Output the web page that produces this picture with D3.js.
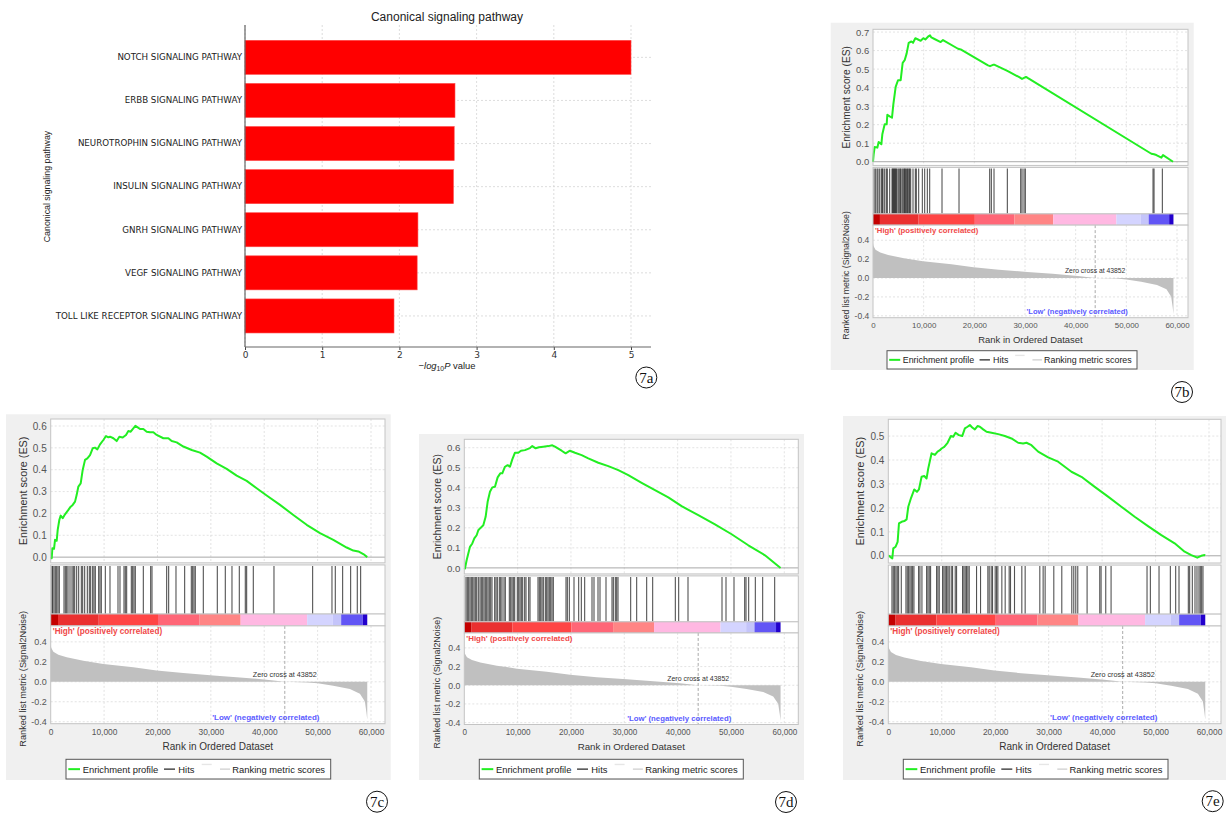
<!DOCTYPE html>
<html lang="en">
<head>
<meta charset="UTF-8">
<title>Figure 7</title>
<script src="https://cdnjs.cloudflare.com/ajax/libs/d3/7.8.5/d3.min.js"></script>
<style>
	body { margin: 0; background: #fff; }
	svg text { font-family: "Liberation Sans", Arial, sans-serif; }
</style>
<script>
// ---- 7a: canonical signaling pathway bars
var pathways = ["NOTCH SIGNALING PATHWAY", "ERBB SIGNALING PATHWAY", "NEUROTROPHIN SIGNALING PATHWAY",
	"INSULIN SIGNALING PATHWAY", "GNRH SIGNALING PATHWAY", "VEGF SIGNALING PATHWAY",
	"TOLL LIKE RECEPTOR SIGNALING PATHWAY"];
var pathwayScores = [5.0, 2.72, 2.71, 2.70, 2.24, 2.23, 1.93];
var barTicks = [0, 1, 2, 3, 4, 5];

// ---- GSEA shared ranked list
var rankTicks = [0, 10000, 20000, 30000, 40000, 50000, 60000];
var metricTicks = [-0.4, -0.2, 0.0, 0.2, 0.4];
var listSize = 59300;
var zeroCross = 43852;
var metricCurve = [[0, 0.37], [100, 0.34], [500, 0.30], [1436, 0.27], [2996, 0.245], [6116, 0.21], [9862, 0.178],
	[15479, 0.145], [19849, 0.113], [24841, 0.087], [30458, 0.064], [35453, 0.044], [40444, 0.021], [43852, 0],
	[48060, -0.006], [50000, -0.015], [52928, -0.04], [56050, -0.073], [57921, -0.12], [58856, -0.197],
	[59150, -0.31], [59300, -0.38]];
var colorBands = [[0, 1370, "#c40000"], [1370, 9000, "#ea3030"], [9000, 20100, "#ff4545"], [20100, 27900, "#ff6677"],
	[27900, 35580, "#ff8585"], [35580, 48040, "#ffb8e2"], [48040, 52850, "#d4d4ff"], [52850, 54410, "#c4c4fa"],
	[54410, 58450, "#6255f5"], [58450, 59300, "#2200cc"]];

// ---- 7b
var esTicksB = [0.0, 0.1, 0.2, 0.3, 0.4, 0.5, 0.6, 0.7];
var esB = [[0, 0], [131, 0.040], [329, 0.079], [855, 0.076], [1118, 0.106], [1645, 0.094], [1842, 0.148], [2303, 0.202],
	[2697, 0.202], [2829, 0.253], [3290, 0.245], [3751, 0.238], [4014, 0.310], [4474, 0.404], [4935, 0.440], [5461, 0.440],
	[5856, 0.534], [6251, 0.548], [6645, 0.585], [7041, 0.642], [7566, 0.649], [7896, 0.642], [8356, 0.667], [8883, 0.660],
	[9408, 0.653], [9935, 0.667], [10330, 0.660], [10856, 0.675], [11251, 0.682], [11514, 0.671], [12041, 0.664],
	[13356, 0.646], [13817, 0.657], [16778, 0.610], [17304, 0.606], [22700, 0.520], [23094, 0.516], [23687, 0.523],
	[24015, 0.523], [26515, 0.491], [28950, 0.455], [29411, 0.447], [30201, 0.458], [30595, 0.451], [54940, 0.043],
	[55466, 0.040], [55927, 0.036], [56913, 0.022], [57243, 0.036], [59216, 0]];
var hitsB = [197, 461, 790, 987, 1316, 1645, 1842, 1973, 2303, 2632, 2829, 3290, 3751, 3882, 4014, 4145, 4276, 4408,
	4540, 4672, 4935, 5132, 5329, 5461, 5724, 5921, 6119, 6251, 6382, 6580, 6777, 6908, 7106, 7238, 7435, 7896, 8356,
	8553, 9014, 9738, 10198, 10725, 11186, 13620, 16976, 23029, 23357, 23884, 26515, 29147, 29411, 29805, 30069,
	55268, 55466, 57110];

// ---- 7c
var esTicksC = [0.0, 0.1, 0.2, 0.3, 0.4, 0.5, 0.6];
var esC = [[0, 0], [187, -0.005], [312, 0.041], [624, 0.038], [812, 0.079], [1124, 0.075], [1311, 0.125], [1623, 0.171],
	[1873, 0.190], [2248, 0.178], [2685, 0.196], [3309, 0.216], [3746, 0.231], [4120, 0.239], [4558, 0.254], [4870, 0.285],
	[5182, 0.323], [5619, 0.337], [5994, 0.399], [6431, 0.445], [6868, 0.452], [7367, 0.467], [7867, 0.498], [8304, 0.501],
	[8740, 0.493], [9240, 0.516], [9865, 0.536], [10364, 0.554], [10802, 0.548], [11113, 0.551], [11738, 0.544],
	[12362, 0.531], [12861, 0.551], [13486, 0.547], [14110, 0.559], [14547, 0.577], [14984, 0.574], [15359, 0.586],
	[15858, 0.601], [16233, 0.595], [16732, 0.586], [17357, 0.586], [17981, 0.574], [18605, 0.571], [19230, 0.571],
	[19854, 0.559], [21103, 0.544], [22039, 0.544], [22664, 0.531], [23600, 0.525], [24849, 0.506], [26410, 0.490],
	[27970, 0.478], [29219, 0.460], [31092, 0.429], [32965, 0.404], [34838, 0.373], [36711, 0.349], [38584, 0.315],
	[40457, 0.282], [42955, 0.239], [45452, 0.193], [47949, 0.148], [50447, 0.110], [52944, 0.079], [55441, 0.044],
	[56690, 0.030], [57627, 0.026], [58563, 0.014], [59300, 0]];
var hitsC = [244, 369, 618, 868, 1118, 1368, 1617, 2491, 2741, 2991, 3241, 3615, 3990, 4239, 4489, 4864, 5238, 5738,
	5988, 6362, 6862, 7236, 7486, 7861, 8110, 8360, 8984, 9234, 9484, 10233, 11107, 12606, 12980, 13729, 13979, 14229,
	15103, 15353, 15602, 15852, 17351, 18724, 18974, 21721, 22096, 23469, 25092, 26341, 26591, 26841, 27090, 28589,
	31211, 32709, 33958, 35332, 36455, 36705, 37954, 41825, 49067, 52688, 53313, 54686, 56185, 57433, 58058];

// ---- 7d
var esTicksD = [0.0, 0.1, 0.2, 0.3, 0.4, 0.5, 0.6];
var esD = [[0, 0], [125, -0.003], [438, 0.038], [750, 0.072], [1063, 0.105], [1500, 0.122], [1875, 0.147], [2313, 0.163],
	[2625, 0.188], [2938, 0.197], [3563, 0.213], [4000, 0.255], [4375, 0.330], [4813, 0.380], [5250, 0.402], [5750, 0.405],
	[6250, 0.452], [6750, 0.472], [7125, 0.472], [7625, 0.505], [8125, 0.513], [8563, 0.505], [9000, 0.542], [9500, 0.575],
	[10125, 0.575], [10625, 0.585], [11375, 0.588], [12313, 0.598], [12750, 0.608], [13375, 0.597], [14000, 0.602],
	[14813, 0.605], [15750, 0.608], [16500, 0.612], [17000, 0.605], [18250, 0.585], [19000, 0.572], [19813, 0.585],
	[20750, 0.575], [22000, 0.563], [23250, 0.547], [25125, 0.525], [27000, 0.508], [28875, 0.488], [30750, 0.463],
	[33250, 0.425], [35750, 0.388], [38250, 0.352], [40750, 0.308], [43875, 0.263], [47000, 0.217], [50125, 0.168],
	[53250, 0.113], [56375, 0.063], [59300, 0]];
var hitsD = [319, 569, 819, 1069, 1319, 1569, 1819, 2069, 2319, 2631, 2944, 3194, 3444, 3694, 3944, 4194, 4444, 4694,
	4944, 5194, 5694, 5944, 6194, 6569, 6819, 7069, 7444, 7694, 8444, 8694, 8944, 9194, 9444, 9944, 10194, 10444, 10694,
	10944, 11319, 11569, 12069, 12319, 13819, 14069, 14319, 14569, 14819, 15194, 15444, 15694, 15944, 16194, 16444,
	16694, 19069, 19319, 19694, 20569, 21444, 21944, 22569, 23944, 24319, 25069, 25444, 26569, 27694, 27944, 28319,
	28569, 28819, 31194, 32319, 34194, 35319, 39569, 40194, 41944, 48319, 49069, 50569, 52569, 52819, 53319, 54569,
	55944, 58194];

// ---- 7e
var esTicksE = [0.0, 0.1, 0.2, 0.3, 0.4, 0.5];
var esE = [[0, 0], [125, 0], [498, -0.007], [747, -0.011], [934, 0.031], [1371, 0.038], [1744, 0.058], [1994, 0.135],
	[2491, 0.142], [2990, 0.145], [3426, 0.152], [3738, 0.205], [4235, 0.240], [4859, 0.277], [5357, 0.267], [5731, 0.277],
	[6229, 0.330], [6728, 0.333], [7164, 0.323], [7475, 0.365], [8098, 0.428], [8721, 0.421], [9219, 0.435], [9655, 0.441],
	[9967, 0.448], [10465, 0.455], [11088, 0.472], [11711, 0.500], [12147, 0.497], [12583, 0.514], [13206, 0.504],
	[13829, 0.500], [14328, 0.532], [14826, 0.539], [15262, 0.546], [15698, 0.536], [16197, 0.528], [16694, 0.542],
	[17131, 0.539], [17753, 0.528], [18377, 0.518], [19311, 0.514], [20557, 0.508], [21803, 0.500], [23048, 0.490],
	[24294, 0.472], [25228, 0.469], [25852, 0.472], [26786, 0.462], [28032, 0.435], [29901, 0.411], [31770, 0.393],
	[34261, 0.351], [36130, 0.330], [38621, 0.288], [41114, 0.247], [43605, 0.205], [46096, 0.163], [48589, 0.124],
	[51080, 0.086], [53572, 0.052], [55440, 0.017], [56687, 0.003], [57808, -0.008], [58555, 0], [59177, 0.003],
	[59300, 0.002]];
var hitsE = [686, 935, 1183, 1433, 1682, 1931, 2430, 3302, 3552, 3800, 4050, 4299, 4549, 4797, 5669, 5919, 6293, 7165,
	7414, 7663, 7912, 9034, 9283, 9532, 10156, 10404, 10654, 10903, 11152, 11401, 11775, 12024, 12522, 12772, 13893,
	14142, 14391, 14641, 14890, 15139, 16510, 17257, 18627, 18876, 19251, 19500, 19998, 20248, 20496, 21244, 21867,
	22614, 22864, 23611, 24982, 25605, 28346, 28969, 29343, 30963, 32459, 34328, 34701, 35075, 35448, 37193, 39560,
	39810, 40682, 41679, 48406, 49030, 50650, 52768, 53765, 54388, 56133, 56382, 56880, 57379, 57752, 58126, 58376,
	58625, 58874];

var panels = [
	{tag: "7b", es: esB, hits: hitsB, esTicks: esTicksB, esDomain: [-0.02, 0.715], left: 873, x60k: 1177, right: 1188,
		top: 29.3, bottom: 317.7, bg: [830.7, 22.7, 1193.7, 370], legend: [887, 350.7, 1137, 369], circle: [1182, 392], s: 0.945},
	{tag: "7c", es: esC, hits: hitsC, esTicks: esTicksC, esDomain: [-0.026, 0.632], left: 50.7, x60k: 371, right: 385,
		top: 419, bottom: 723.7, bg: [6, 414.3, 390.7, 780], legend: [66, 759.3, 330.7, 779], circle: [377, 801.7], s: 1},
	{tag: "7d", es: esD, hits: hitsD, esTicks: esTicksD, esDomain: [-0.03, 0.642], left: 464.3, x60k: 784.3, right: 798.3,
		top: 439.3, bottom: 724.5, bg: [419, 434, 804, 780], legend: [479.3, 759.3, 743.3, 779], circle: [786, 802], s: 0.97},
	{tag: "7e", es: esE, hits: hitsE, esTicks: esTicksE, esDomain: [-0.03, 0.57], left: 888.3, x60k: 1209, right: 1221,
		top: 419.3, bottom: 723.7, bg: [843, 416, 1226, 780], legend: [903.3, 759.3, 1168, 779], circle: [1212.7, 801.2], s: 1}
];

function circled(svg, c, label) {
	svg.append("circle").attr("cx", c[0]).attr("cy", c[1]).attr("r", 10.5)
		.attr("fill", "none").attr("stroke", "#111").attr("stroke-width", 1);
	svg.append("text").attr("x", c[0]).attr("y", c[1] + 5).attr("text-anchor", "middle")
		.style("font-family", "'Liberation Serif', 'DejaVu Serif', serif").attr("font-size", 15).attr("fill", "#111")
		.text(label);
}

function drawBars(svg) {
	var g = svg.append("g").style("font-family", "'DejaVu Sans', sans-serif");
	var top = 25, bottom = 347, right = 651;
	var x = d3.scaleLinear().domain([0, 5]).range([245, 631]);
	var y = d3.scaleBand().domain(pathways).range([35.8, 337.5]).paddingInner(0.21).paddingOuter(0.105);

	g.selectAll("line.vg").data(barTicks).enter().append("line")
		.attr("x1", x).attr("x2", x).attr("y1", top).attr("y2", bottom)
		.attr("stroke", "#d4d4d4").attr("stroke-width", 0.8).attr("stroke-dasharray", "2,2");
	g.selectAll("line.hg").data(pathways).enter().append("line")
		.attr("x1", x(0)).attr("x2", right)
		.attr("y1", function(d) {return y(d) + y.bandwidth() / 2;})
		.attr("y2", function(d) {return y(d) + y.bandwidth() / 2;})
		.attr("stroke", "#d4d4d4").attr("stroke-width", 0.8).attr("stroke-dasharray", "2,2");

	g.selectAll("rect.bar").data(pathways).enter().append("rect")
		.attr("x", x(0)).attr("y", function(d) {return y(d);})
		.attr("width", function(d, i) {return x(pathwayScores[i]) - x(0);})
		.attr("height", y.bandwidth())
		.attr("fill", "#ff0000").attr("stroke", "#ff4a4a").attr("stroke-width", 0.6);

	var xa = g.append("g").attr("transform", "translate(0," + bottom + ")")
		.call(d3.axisBottom(x).tickValues(barTicks).tickSize(3).tickPadding(2).tickFormat(d3.format("d")));
	xa.select(".domain").remove();
	xa.selectAll("line").attr("stroke", "#444");
	xa.selectAll("text").attr("font-size", 9).attr("fill", "#333").style("font-family", "'DejaVu Sans', sans-serif");

	var ya = g.append("g").attr("transform", "translate(" + x(0) + ",0)")
		.call(d3.axisLeft(y).tickSize(0).tickPadding(3));
	ya.select(".domain").remove();
	ya.selectAll("text").attr("font-size", 8.7).attr("fill", "#222").style("font-family", "'DejaVu Sans', sans-serif");

	g.append("line").attr("x1", x(0)).attr("x2", x(0)).attr("y1", top).attr("y2", bottom)
		.attr("stroke", "#666").attr("stroke-width", 1.2);
	g.append("line").attr("x1", x(0)).attr("x2", right).attr("y1", bottom).attr("y2", bottom)
		.attr("stroke", "#666").attr("stroke-width", 1.2);

	g.append("text").attr("x", 447).attr("y", 21).attr("text-anchor", "middle")
		.attr("font-size", 12).attr("fill", "#222").text("Canonical signaling pathway");
	g.append("text").attr("transform", "translate(50,186.5) rotate(-90)").attr("text-anchor", "middle")
		.attr("font-size", 8.8).attr("fill", "#222").text("Canonical signaling pathway");

	var xl = g.append("text").attr("x", 447).attr("y", 369).attr("text-anchor", "middle")
		.attr("font-size", 9.4).attr("fill", "#222");
	xl.append("tspan").text("\u2212");
	xl.append("tspan").style("font-style", "italic").text("log");
	xl.append("tspan").attr("font-size", 6.8).attr("dy", 2).text("10");
	xl.append("tspan").style("font-style", "italic").attr("dy", -2).text("P");
	xl.append("tspan").text(" value");

	circled(svg, [646.3, 377.5], "7a");
}

function drawGsea(svg, p) {
	var s = p.s;
	var g = svg.append("g");
	var H = p.bottom - p.top;
	var esBot = p.top + 0.472 * H, hitTop = p.top + 0.479 * H;
	var barTop = p.top + 0.640 * H, barBot = p.top + 0.679 * H;
	var x = d3.scaleLinear().domain([0, 60000]).range([p.left, p.x60k]);
	var yEs = d3.scaleLinear().domain(p.esDomain).range([esBot, p.top]);
	var yM = d3.scaleLinear().domain([-0.42, 0.56]).range([p.bottom, barBot]);
	var W = p.right - p.left;

	g.append("rect").attr("x", p.bg[0]).attr("y", p.bg[1])
		.attr("width", p.bg[2] - p.bg[0]).attr("height", p.bg[3] - p.bg[1]).attr("fill", "#f0f0f0");

	function box(y0, y1) {
		return g.append("rect").attr("x", p.left).attr("y", y0).attr("width", W).attr("height", y1 - y0)
			.attr("fill", "#fff");
	}
	function border(y0, y1) {
		g.append("rect").attr("x", p.left).attr("y", y0).attr("width", W).attr("height", y1 - y0)
			.attr("fill", "none").attr("stroke", "#c4c4c4").attr("stroke-width", 1);
	}
	function grid(yScale, yTicks, y0, y1) {
		g.append("g").selectAll("line").data(rankTicks.slice(1)).enter().append("line")
			.attr("x1", x).attr("x2", x).attr("y1", y0).attr("y2", y1)
			.attr("stroke", "#dcdcdc").attr("stroke-width", 0.8).attr("stroke-dasharray", "2,2");
		g.append("g").selectAll("line").data(yTicks).enter().append("line")
			.attr("x1", p.left).attr("x2", p.right).attr("y1", yScale).attr("y2", yScale)
			.attr("stroke", "#dcdcdc").attr("stroke-width", 0.8).attr("stroke-dasharray", "2,2");
	}

	// enrichment score
	box(p.top, esBot);
	grid(yEs, p.esTicks.slice(1), p.top, esBot);
	g.append("line").attr("x1", p.left).attr("x2", p.right).attr("y1", yEs(0)).attr("y2", yEs(0))
		.attr("stroke", "#a8a8a8").attr("stroke-width", 1);
	g.append("path").datum(p.es)
		.attr("d", d3.line().x(function(d) {return x(d[0]);}).y(function(d) {return yEs(d[1]);}))
		.attr("fill", "none").attr("stroke", "#22ee22").attr("stroke-width", 2).attr("stroke-linejoin", "round");
	border(p.top, esBot);

	// hits
	box(hitTop, barTop);
	g.append("g").selectAll("line").data(p.hits).enter().append("line")
		.attr("x1", x).attr("x2", x).attr("y1", hitTop + 1).attr("y2", barTop)
		.attr("stroke", "#1a1a1a").attr("stroke-width", 1.1).attr("stroke-opacity", 0.75);
	border(hitTop, barTop);

	// color bar
	box(barTop, barBot);
	g.append("g").selectAll("rect").data(colorBands).enter().append("rect")
		.attr("x", function(d) {return x(d[0]);}).attr("y", barTop)
		.attr("width", function(d) {return x(d[1]) - x(d[0]);}).attr("height", barBot - barTop)
		.attr("fill", function(d) {return d[2];});
	border(barTop, barBot);

	// ranked list metric
	box(barBot, p.bottom);
	grid(yM, metricTicks, barBot, p.bottom);
	g.append("path").datum(metricCurve)
		.attr("d", d3.area().x(function(d) {return x(d[0]);}).y0(yM(0)).y1(function(d) {return yM(d[1]);}))
		.attr("fill", "#c0c0c0");
	g.append("line").attr("x1", x(zeroCross)).attr("x2", x(zeroCross)).attr("y1", barBot).attr("y2", p.bottom)
		.attr("stroke", "#aaa").attr("stroke-width", 1).attr("stroke-dasharray", "3,2");
	g.append("text").attr("x", x(zeroCross)).attr("y", yM(0.048)).attr("text-anchor", "middle")
		.attr("font-size", 7.2 * s).attr("fill", "#333").text("Zero cross at " + zeroCross);
	g.append("text").attr("x", p.left + 2).attr("y", barBot + 8.4 * s).attr("font-weight", "bold")
		.attr("font-size", 8.2 * s).attr("fill", "#f04848").text("'High' (positively correlated)");
	g.append("text").attr("x", x(40300)).attr("y", yM(-0.378)).attr("text-anchor", "middle").attr("font-weight", "bold")
		.attr("font-size", 8 * s).attr("fill", "#5a5aff").text("'Low' (negatively correlated)");
	border(barBot, p.bottom);

	// axes
	var fmt1 = function(d) {return d.toFixed(1);};
	var ea = g.append("g").attr("transform", "translate(" + p.left + ",0)")
		.call(d3.axisLeft(yEs).tickValues(p.esTicks).tickFormat(fmt1).tickSize(0).tickPadding(4 * s));
	var ma = g.append("g").attr("transform", "translate(" + p.left + ",0)")
		.call(d3.axisLeft(yM).tickValues(metricTicks).tickFormat(fmt1).tickSize(0).tickPadding(4 * s));
	var xa = g.append("g").attr("transform", "translate(0," + p.bottom + ")")
		.call(d3.axisBottom(x).tickValues(rankTicks).tickFormat(d3.format(",")).tickSize(0).tickPadding(5 * s));
	[ea, ma, xa].forEach(function(a) {
		a.select(".domain").remove();
		a.selectAll("text").attr("fill", "#555").style("font-family", "'Liberation Sans', Arial, sans-serif");
	});
	ea.selectAll("text").attr("font-size", 10 * s);
	ma.selectAll("text").attr("font-size", 9 * s);
	xa.selectAll("text").attr("font-size", 8.4 * s);

	g.append("text").attr("transform", "translate(" + (p.left - 24 * s) + "," + ((p.top + esBot) / 2) + ") rotate(-90)")
		.attr("text-anchor", "middle").attr("font-size", 10.8 * s).attr("fill", "#333").text("Enrichment score (ES)");
	g.append("text").attr("transform", "translate(" + (p.left - 25 * s) + "," + ((barBot + p.bottom) / 2 + 4) + ") rotate(-90)")
		.attr("text-anchor", "middle").attr("font-size", 9.2 * s).attr("fill", "#333").text("Ranked list metric (Signal2Noise)");
	g.append("text").attr("x", (p.left + p.right) / 2).attr("y", p.bottom + 26.5 * s).attr("text-anchor", "middle")
		.attr("font-size", 10 * s).attr("fill", "#333").text("Rank in Ordered Dataset");

	drawLegend(g, p.legend);
	circled(svg, p.circle, p.tag);
}

function drawLegend(g, b) {
	var k = (b[2] - b[0]) / 264.7, x0 = b[0], cy = (b[1] + b[3]) / 2;
	g.append("rect").attr("x", b[0]).attr("y", b[1]).attr("width", b[2] - b[0]).attr("height", b[3] - b[1])
		.attr("fill", "#fff").attr("stroke", "#555").attr("stroke-width", 1);
	var lines = [[2.3, 14, 0, "#22ee22", 2], [98, 109, 0, "#555", 1.6], [135.7, 145.7, -4.7, "#e6e6e6", 1.4],
		[154, 164, 0, "#d8d8d8", 1.6]];
	lines.forEach(function(l) {
		g.append("line").attr("x1", x0 + l[0] * k).attr("x2", x0 + l[1] * k)
			.attr("y1", cy + l[2] * k).attr("y2", cy + l[2] * k).attr("stroke", l[3]).attr("stroke-width", l[4]);
	});
	var labels = [[16.7, "Enrichment profile"], [112.3, "Hits"], [166.3, "Ranking metric scores"]];
	labels.forEach(function(t) {
		g.append("text").attr("x", x0 + t[0] * k).attr("y", cy + 3.4 * k).attr("font-size", 9.4 * k)
			.attr("fill", "#222").text(t[1]);
	});
}

function makeFigure() {
	var svg = d3.select("#fig");
	drawBars(svg);
	panels.forEach(function(p) {drawGsea(svg, p);});
}
</script>
</head>
<body onload="makeFigure()">
	<svg id="fig" width="1226" height="814"></svg>
</body>
</html>
